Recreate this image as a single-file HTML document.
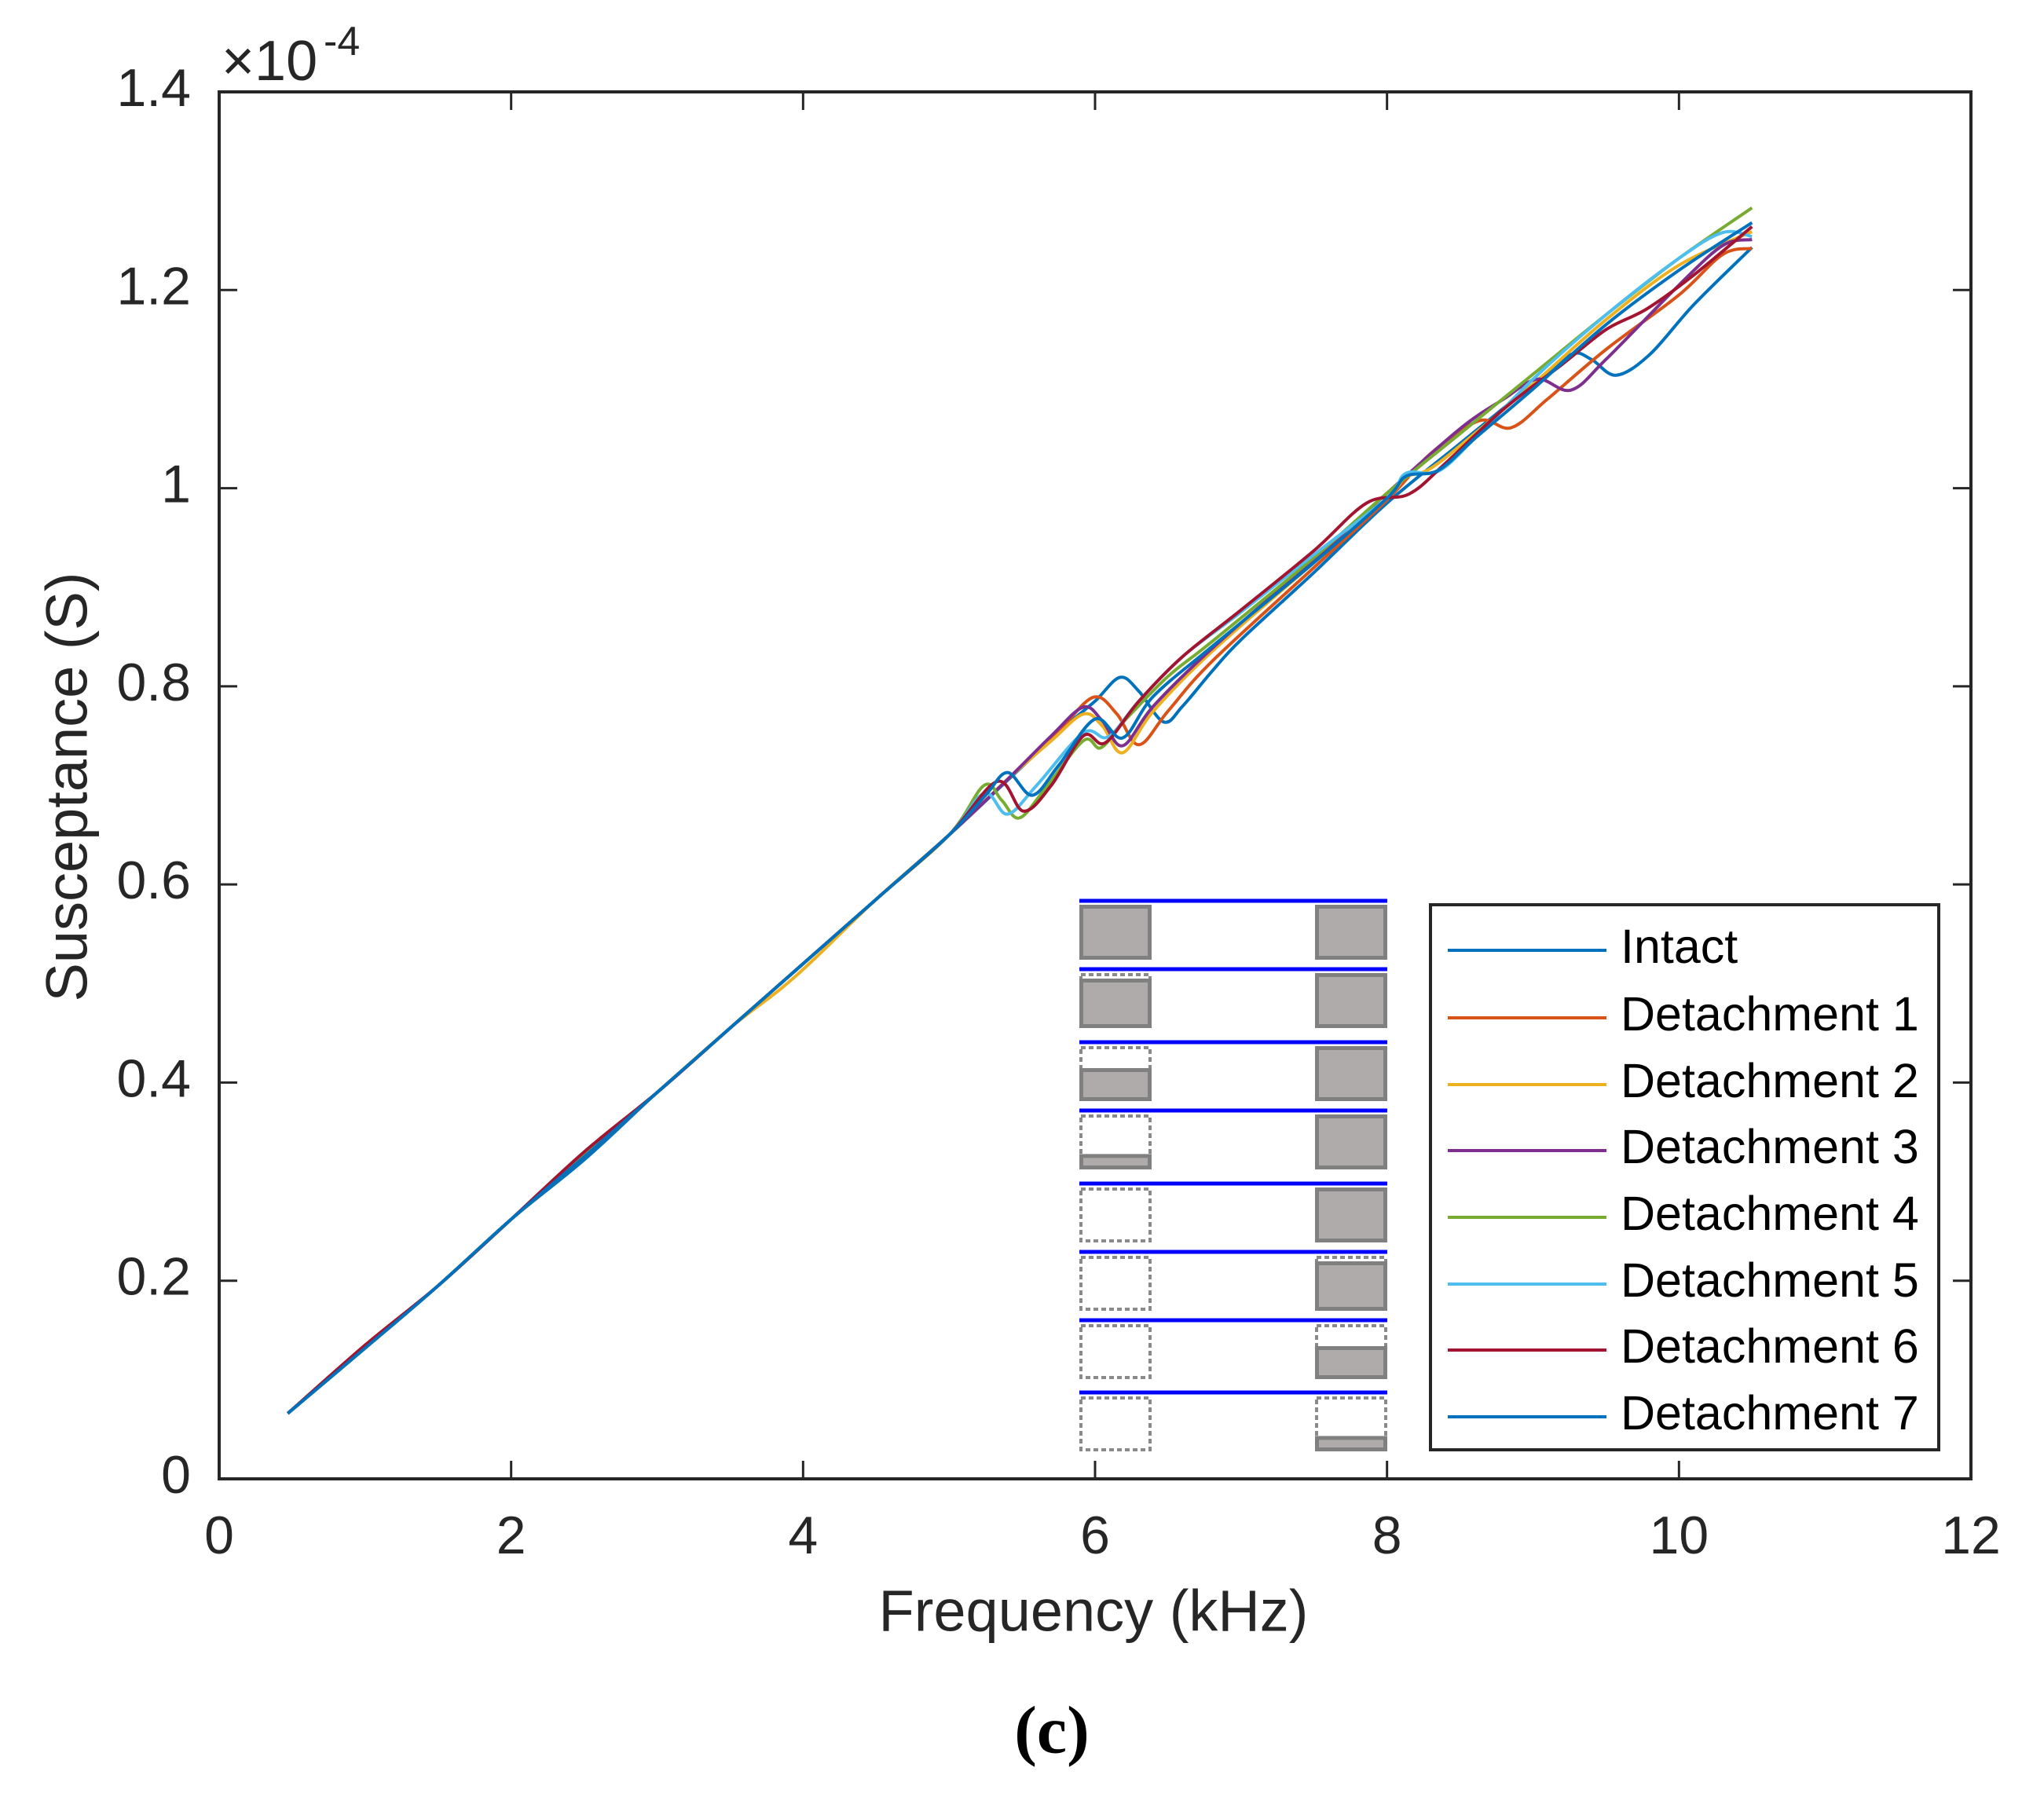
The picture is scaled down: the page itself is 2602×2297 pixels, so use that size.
<!DOCTYPE html>
<html>
<head>
<meta charset="utf-8">
<style>
  html, body { margin: 0; padding: 0; background: #fff; }
  svg { display: block; }
  text { font-family: "Liberation Sans", Arial, sans-serif; fill: #262626; }
</style>
</head>
<body>
<svg id="chart" width="2602" height="2297" viewBox="0 0 2602 2297" xmlns="http://www.w3.org/2000/svg">
  <rect x="0" y="0" width="2602" height="2297" fill="#fff"/>
  <g id="plot"></g>
  <g id="diagram"></g>
  <g id="axes"></g>
  <g id="legend"></g>
  <text x="91" y="1002" font-size="74" text-anchor="middle" dominant-baseline="middle" transform="rotate(-90 91 1002)">Susceptance (S)</text>
  <text x="1392" y="2057" font-size="74" text-anchor="middle" dominant-baseline="middle">Frequency (kHz)</text>
  <g>
    <text x="282" y="102" font-size="72">×10</text>
    <text x="412" y="70" font-size="52">-4</text>
  </g>
  <text x="1339" y="2212" font-size="86" font-weight="bold" text-anchor="middle" dominant-baseline="middle" style="font-family:'Liberation Serif',serif;fill:#000">(c)</text>
</svg>
<script>
// ---- data ----
const xTicks = [0, 2, 4, 6, 8, 10, 12];
const yTicks = [0, 0.2, 0.4, 0.6, 0.8, 1, 1.2, 1.4];
const yTickLabels = ["0", "0.2", "0.4", "0.6", "0.8", "1", "1.2", "1.4"];
const seriesNames = ["Intact", "Detachment 1", "Detachment 2", "Detachment 3", "Detachment 4", "Detachment 5", "Detachment 6", "Detachment 7"];
const seriesColors = ["#0072BD", "#D95319", "#EDB120", "#7E2F8E", "#77AC30", "#4DBEEE", "#A2142F", "#0072BD"];

const fIntact = [0.47,1,1.5,2,2.5,3,3.5,4,4.5,5,5.4,5.8,6.0,6.17,6.3,6.47,6.6,6.8,7,7.5,8,8.5,9,9.26,9.4,9.57,9.8,10.1,10.5];
const vIntact = [0.066,0.133,0.195,0.262,0.322,0.39,0.455,0.52,0.585,0.65,0.705,0.76,0.785,0.809,0.795,0.764,0.78,0.815,0.847,0.915,0.985,1.045,1.105,1.135,1.13,1.114,1.135,1.185,1.243];

const fD1 = [0.47,1,1.5,2,2.5,3,3.5,4,4.5,5,5.4,5.75,5.99,6.15,6.30,6.5,6.8,7.5,8.0,8.3,8.63,8.85,9.1,9.5,10,10.3,10.5];
const vD1 = [0.066,0.132,0.195,0.262,0.325,0.39,0.455,0.52,0.585,0.65,0.706,0.755,0.789,0.772,0.741,0.775,0.825,0.92,0.988,1.035,1.068,1.061,1.09,1.14,1.195,1.236,1.242];

const fD2 = [0.47,1,1.5,2,2.5,3,3.5,3.85,4.1,4.5,5,5.4,5.7,5.92,6.05,6.19,6.4,6.8,7.5,8.0,8.13,8.3,8.6,9,9.5,10,10.5];
const vD2 = [0.066,0.132,0.195,0.262,0.325,0.39,0.455,0.495,0.528,0.585,0.65,0.706,0.745,0.772,0.76,0.733,0.775,0.835,0.925,0.99,1.011,1.02,1.055,1.105,1.17,1.225,1.259];

const fD3 = [0.47,1,1.5,2,2.5,3,3.5,4,4.5,5,5.4,5.7,5.92,6.05,6.19,6.4,6.8,7.5,8.0,8.5,8.8,9.03,9.26,9.5,10,10.3,10.5];
const vD3 = [0.066,0.132,0.195,0.262,0.325,0.39,0.455,0.52,0.585,0.65,0.706,0.75,0.779,0.765,0.740,0.78,0.838,0.928,0.995,1.06,1.09,1.110,1.099,1.13,1.205,1.245,1.251];

const fD4 = [0.47,1,1.5,2,2.5,3,3.5,4,4.5,5,5.24,5.36,5.48,5.65,5.92,6.04,6.2,6.5,6.8,7.5,8.0,8.5,9,9.5,10,10.5];
const vD4 = [0.066,0.132,0.195,0.262,0.328,0.39,0.455,0.52,0.585,0.65,0.700,0.685,0.667,0.695,0.745,0.738,0.765,0.81,0.845,0.93,0.995,1.055,1.115,1.175,1.232,1.283];

const fD5 = [0.47,1,1.5,2,2.5,3,3.5,4,4.5,5,5.24,5.40,5.6,5.92,6.09,6.3,6.6,7,7.5,8.0,8.13,8.35,8.6,9,9.5,10,10.3,10.5];
const vD5 = [0.066,0.132,0.195,0.262,0.33,0.39,0.455,0.52,0.585,0.65,0.692,0.671,0.70,0.753,0.749,0.785,0.83,0.875,0.933,0.99,1.015,1.017,1.05,1.11,1.175,1.232,1.258,1.254];

const fD6 = [0.47,1,1.5,2,2.5,3,3.5,4,4.5,5,5.33,5.51,5.7,5.92,6.07,6.3,6.6,7,7.5,7.86,8.15,8.4,8.8,9.2,9.5,9.78,10.1,10.5];
const vD6 = [0.066,0.135,0.195,0.262,0.33,0.39,0.455,0.52,0.585,0.65,0.704,0.674,0.70,0.750,0.743,0.785,0.83,0.877,0.937,0.985,0.994,1.025,1.08,1.125,1.16,1.181,1.215,1.264];

const fD7 = [0.47,1,1.5,2,2.5,3,3.5,4,4.5,5,5.25,5.40,5.57,5.75,6.0,6.19,6.4,6.8,7.5,8.0,8.13,8.35,8.6,9,9.5,10,10.5];
const vD7 = [0.066,0.132,0.195,0.262,0.325,0.39,0.455,0.52,0.585,0.65,0.69,0.713,0.690,0.72,0.767,0.748,0.79,0.84,0.925,0.99,1.012,1.018,1.05,1.10,1.165,1.22,1.268];

const seriesF = [fIntact, fD1, fD2, fD3, fD4, fD5, fD6, fD7];
const seriesV = [vIntact, vD1, vD2, vD3, vD4, vD5, vD6, vD7];

// diagram: fraction of left/right block remaining attached per row
const diagLeft  = [1, 0.9, 0.6, 0.28, 0, 0, 0, 0];
const diagRight = [1, 1, 1, 1, 1, 0.9, 0.6, 0.28];

// ---- layout ----
const NS = "http://www.w3.org/2000/svg";
const L = 279, R = 2509, T = 117, B = 1883;
const xMin = 0, xMax = 12, yMin = 0, yMax = 1.4;
function sx(v) { return L + (v - xMin) / (xMax - xMin) * (R - L); }
function sy(v) { return B - (v - yMin) / (yMax - yMin) * (B - T); }
function mk(tag, attrs, parent) {
  const e = document.createElementNS(NS, tag);
  for (const k in attrs) e.setAttribute(k, attrs[k]);
  parent.appendChild(e);
  return e;
}

// series
const plot = document.getElementById('plot');
function smoothPath(pts) {
  let d = "M" + pts[0][0].toFixed(1) + "," + pts[0][1].toFixed(1);
  for (let i = 0; i < pts.length - 1; i++) {
    const p0 = pts[Math.max(0, i - 1)], p1 = pts[i], p2 = pts[i + 1], p3 = pts[Math.min(pts.length - 1, i + 2)];
    const c1x = p1[0] + (p2[0] - p0[0]) / 6, c1y = p1[1] + (p2[1] - p0[1]) / 6;
    const c2x = p2[0] - (p3[0] - p1[0]) / 6, c2y = p2[1] - (p3[1] - p1[1]) / 6;
    d += " C" + c1x.toFixed(1) + "," + c1y.toFixed(1) + " " + c2x.toFixed(1) + "," + c2y.toFixed(1) + " " + p2[0].toFixed(1) + "," + p2[1].toFixed(1);
  }
  return d;
}
for (let s = 0; s < seriesNames.length; s++) {
  const pts = seriesF[s].map((f, i) => [sx(f), sy(seriesV[s][i])]);
  const p = mk('path', { d: smoothPath(pts), fill: 'none', stroke: seriesColors[s], 'stroke-width': 4, 'stroke-linejoin': 'round' }, plot);
  
  
}

// diagram
const diag = document.getElementById('diagram');
const rowY = [1147, 1234, 1327, 1414, 1507, 1594, 1681, 1773];
const boxH = 70;
function block(x, y, frac, parent, name) {
  const g = mk('g', {}, parent);
  
  
  if (frac < 1) {
    mk('rect', { x: x + 2, y: y + 2, width: 88, height: boxH - 4, fill: 'none', stroke: '#8a8a8a', 'stroke-width': 4, 'stroke-dasharray': '6 4' }, g);
  }
  if (frac > 0) {
    const h = boxH * frac;
    mk('rect', { x: x + 2.5, y: y + boxH - h + 2.5, width: 87, height: h - 5, fill: '#afabab', stroke: '#808080', 'stroke-width': 5 }, g);
  }
}
for (let r = 0; r < rowY.length; r++) {
  const ln = mk('line', { x1: 1374, x2: 1766, y1: rowY[r], y2: rowY[r], stroke: '#0000ff', 'stroke-width': 5 }, diag);
  
  
  block(1374, rowY[r] + 5, diagLeft[r], diag, 'diagram-left-block-' + (r + 1));
  block(1674, rowY[r] + 5, diagRight[r], diag, 'diagram-right-block-' + (r + 1));
}

// axes
const axes = document.getElementById('axes');
const frame = mk('rect', { x: L, y: T, width: R - L, height: B - T, fill: 'none', stroke: '#262626', 'stroke-width': 4 }, axes);


const TL = 23;
xTicks.forEach(v => {
  const x = sx(v);
  const t1 = mk('line', { x1: x, x2: x, y1: B, y2: B - TL, stroke: '#262626', 'stroke-width': 3 }, axes);
  
  
  const t2 = mk('line', { x1: x, x2: x, y1: T, y2: T + TL, stroke: '#262626', 'stroke-width': 3 }, axes);
  
  
  const lab = mk('text', { x: x, y: 1960, 'font-size': 68, 'text-anchor': 'middle', 'dominant-baseline': 'middle' }, axes);
  lab.textContent = String(v);
  
  
});
yTicks.forEach((v, i) => {
  const y = sy(v);
  const t1 = mk('line', { x1: L, x2: L + TL, y1: y, y2: y, stroke: '#262626', 'stroke-width': 3 }, axes);
  
  
  const t2 = mk('line', { x1: R, x2: R - TL, y1: y, y2: y, stroke: '#262626', 'stroke-width': 3 }, axes);
  
  
  const lab = mk('text', { x: 243, y: y, 'font-size': 68, 'text-anchor': 'end', 'dominant-baseline': 'middle' }, axes);
  lab.textContent = yTickLabels[i];
  
  
});

// legend
const leg = document.getElementById('legend');
const lbox = mk('rect', { x: 1821, y: 1152, width: 647, height: 694, fill: '#fff', stroke: '#262626', 'stroke-width': 4 }, leg);


const legY = [1210, 1296, 1381, 1465, 1550, 1635, 1719, 1804];
for (let s = 0; s < seriesNames.length; s++) {
  const g = mk('g', {}, leg);
  
  
  mk('line', { x1: 1843, x2: 2045, y1: legY[s], y2: legY[s], stroke: seriesColors[s], 'stroke-width': 4 }, g);
  const t = mk('text', { x: 2063, y: legY[s], 'font-size': 61, 'dominant-baseline': 'middle', style: 'fill:#000' }, g);
  t.textContent = seriesNames[s];
}
</script>
</body>
</html>
